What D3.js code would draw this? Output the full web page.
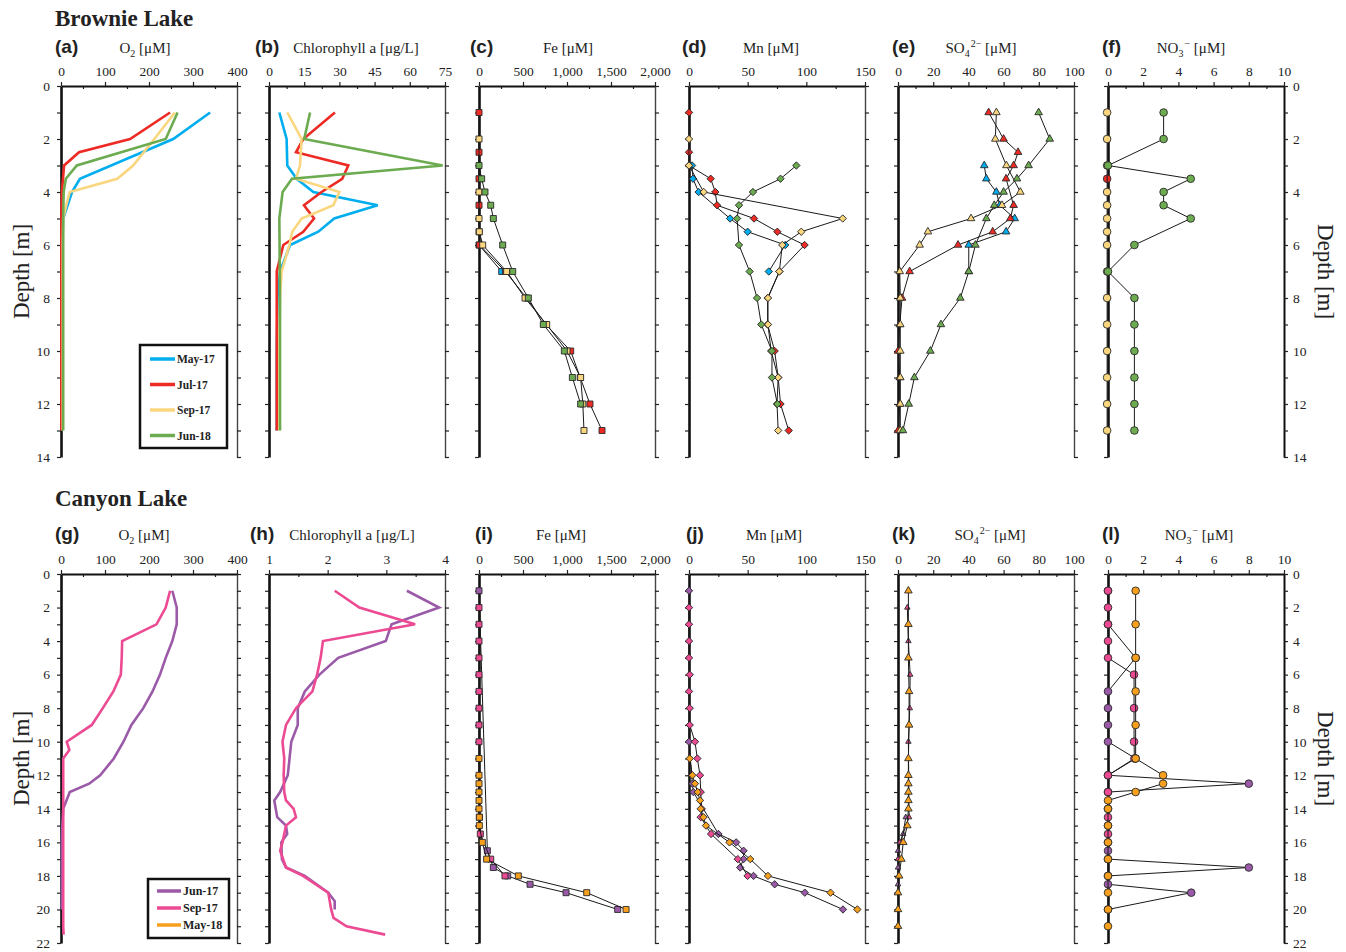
<!DOCTYPE html>
<html>
<head>
<meta charset="utf-8">
<script src="https://cdn.jsdelivr.net/npm/d3@7"></script>
<style>
  body { margin: 0; background: #fff; }
</style>
</head>
<body>
<svg id="chart" width="1346" height="952"></svg>
<script>
// Depth profiles, Brownie Lake / Canyon Lake

const serif = '"Liberation Serif", "Times New Roman", serif';
const sans = '"Liberation Sans", Arial, sans-serif';

// sampling campaigns
const brownieDates = ["May-17", "Jul-17", "Sep-17", "Jun-18"];
const brownieColors = ["#00aeef", "#ed2a24", "#fad67f", "#6cab4f"];
const canyonDates = ["Jun-17", "Sep-17", "May-18"];
const canyonColors = ["#9b5aa8", "#ec4a92", "#f6a01e"];

// top axis ticks
const o2Ticks = [0, 100, 200, 300, 400];
const chlBrownieTicks = [0, 15, 30, 45, 60, 75];
const chlCanyonTicks = [1, 2, 3, 4];
const feTicks = [0, 500, 1000, 1500, 2000];
const mnTicks = [0, 50, 100, 150];
const so4Ticks = [0, 20, 40, 60, 80, 100];
const no3Ticks = [0, 2, 4, 6, 8, 10];

// ---- Brownie Lake: [depth m, value], series in brownieDates order ----
const brownieO2 = [
  [[1,339],[2,255],[3.5,43],[4,25],[5,5],[6,3],[7,3],[8,3],[9,3],[10,3],[11,3],[12,3],[13,3]],
  [[1,248],[2,157],[2.5,41],[3,7],[4,2],[5,1],[6,1],[7,1],[8,1],[9,1],[10,1],[11,1],[12,1],[13,1]],
  [[1,259],[2,212],[3,164],[3.5,128],[4,20],[4.5,12],[5,5],[6,4],[7,4],[8,4],[9,4],[10,4],[11,4],[12,4],[13,4]],
  [[1,265],[2,238],[3,36],[3.5,11],[4,6],[5,5],[6,5],[7,5],[8,5],[9,5],[10,5],[11,5],[12,5],[13,5]]
];
const brownieChl = [
  [[1,4.4],[2,7.5],[3,7.8],[3.5,11.8],[4,18.9],[4.5,46.3],[5,27.8],[5.5,21],[6,9],[7,4.7],[8,3.8],[9,3.5],[10,3.3],[11,3.3],[12,3.3],[13,3.3]],
  [[1,28.1],[2,14.6],[2.5,11.5],[3,33.8],[3.5,31.2],[4,22.4],[4.5,14.9],[5,19.2],[5.5,14.6],[6,6.1],[7,3.3],[8,3.3],[9,3.3],[10,3.3],[11,3.3],[12,3.3],[13,3.3]],
  [[1,7.8],[2,13.9],[3,13.2],[3.5,11.5],[4,30],[4.5,27.4],[5,13.9],[5.5,9.9],[6,8.7],[7,5.4],[8,4.7],[9,4.5],[10,4.4],[11,4.4],[12,4.4],[13,4.4]],
  [[1,17.5],[2,15],[3,74],[3.5,9.8],[4,5.8],[5,4.4],[6,4.5],[7,4.6],[8,4.7],[9,4.7],[10,4.7],[11,4.7],[12,4.7],[13,4.7]]
];
const brownieFe = [
  [[6,0],[7,258]],
  [[1,0],[2.5,0],[3.5,0],[4.5,0],[5.5,0],[6,5],[7,300],[8,540],[9,760],[10,1042],[11,1150],[12,1261],[13,1398]],
  [[2,0],[4,0],[5,0],[5.5,4],[6,42],[7,314],[8,523],[9,769],[10,1000],[11,1155],[12,1180],[13,1193]],
  [[3,0],[3.5,30],[4,68],[4.5,133],[5,163],[6,269],[7,383],[8,561],[9,731],[10,970],[11,1061],[12,1155]]
];
const brownieMn = [
  [[3,2.6],[3.5,3.4],[4,8.2],[5,35],[5.5,50],[6,82],[7,68]],
  [[1,0],[2.5,0],[3,0],[3.5,18.5],[4,22.4],[4.5,23.9],[5,55.4],[5.5,75.3],[6,98.5],[7,77],[8,67],[9,67],[10,73],[11,76],[12,78],[13,85]],
  [[2,0],[3,0],[4,12.5],[5,131],[5.5,95.7],[6,79.5],[7,77],[8,67.3],[9,67.3],[10,70],[11,76],[12,75],[13,76]],
  [[3,91.5],[3.5,78],[4,54.5],[4.5,42.6],[5,41],[6,42.6],[7,51.7],[8,58],[9,61.6],[10,70.7],[11,70.7],[12,75.3]]
];
const brownieSO4 = [
  [[3,49],[3.5,50.2],[4,55.9],[4.5,57.8],[5,66.3],[5.5,61.4],[6,40.2],[7,40.2]],
  [[1,51.5],[2,60],[2.5,68.2],[3,65.7],[3.5,61.4],[4.5,65.7],[5,63.8],[5.5,53.8],[6,34.1],[7,6.6],[8,2.3],[9,1],[10,0],[11,1],[12,1],[13,0]],
  [[1,55.9],[2,55.3],[3,61.6],[4,69.5],[4.5,59.1],[5,41.5],[5.5,17],[6,12.3],[7,1],[8,1.3],[9,1.3],[10,1.3],[11,1.3],[12,1.3],[13,1.3]],
  [[1,79.9],[2,86.2],[3,74.2],[3.5,67.6],[4,60],[4.5,54.7],[5,50.2],[6,44],[7,40.2],[8,35.4],[9,24.4],[10,18.4],[11,9.3],[12,6.1],[13,2.8]]
];
const brownieNO3 = [
  null,
  [[3.5,-0.05]],
  [[1,-0.05],[2,-0.05],[3,-0.05],[4,-0.05],[4.5,-0.05],[5,-0.05],[5.5,-0.05],[6,-0.05],[7,-0.05],[8,-0.05],[9,-0.05],[10,-0.05],[11,-0.05],[12,-0.05],[13,-0.05]],
  [[1,3.16],[2,3.16],[3,0],[3.5,4.7],[4,3.16],[4.5,3.16],[5,4.7],[6,1.5],[7,0],[8,1.5],[9,1.5],[10,1.5],[11,1.5],[12,1.5],[13,1.5]]
];

// ---- Canyon Lake: series in canyonDates order ----
const canyonO2 = [
  [[1,253],[2,263],[3,263],[4,253],[5,238],[6,225],[7,208],[8,187],[9,160],[10,142],[11,120],[12,89],[12.5,64],[13,20],[14,5],[15,3],[16,2],[17,2],[18,2],[19,2],[20,2]],
  [[1,248],[2,238],[3,217],[4,139],[5,138],[6,136],[7,119],[8,95],[9,70],[10,13],[10.5,19],[11,5],[12,5],[14,5],[16,5],[18,5],[20,5],[21,5],[21.5,6]],
  null
];
const canyonChl = [
  [[1,3.35],[2,3.9],[3,3.09],[4,2.99],[5,2.18],[6,1.86],[7,1.61],[8,1.49],[9,1.49],[10,1.38],[11,1.35],[12,1.32],[13,1.19],[13.5,1.09],[14.5,1.14],[15,1.29],[15.5,1.31],[16,1.21],[17,1.22],[17.5,1.29],[18,1.61],[19,2.01],[19.5,2.12],[20,2.12]],
  [[1,2.12],[2,2.54],[3,3.49],[4,1.92],[5,1.88],[6,1.82],[7,1.74],[8,1.46],[9,1.29],[10,1.23],[11,1.26],[12,1.25],[13,1.26],[13.5,1.29],[14,1.42],[14.5,1.46],[15,1.29],[16,1.23],[16.5,1.19],[17.5,1.29],[18,1.58],[19,2.01],[20,2.06],[20.5,2.1],[21,2.32],[21.5,2.98]],
  null
];
const canyonFe = [
  [[1,0],[16.5,95],[17.5,163],[18,326],[18.5,580],[19,989],[20,1576]],
  [[2,0],[3,0],[4,0],[5,0],[6,0],[7,0],[8,0],[9,0],[10,0],[14.5,5],[15.5,15],[17,133],[18,295]],
  [[11,0],[12,0],[12.5,0],[13,0],[13.5,0],[14,0],[14.5,4],[15,4],[16,38],[17,87],[18,447],[19,1224],[20,1671]]
];
const canyonMn = [
  [[1,0],[10,0],[12.5,2.9],[13,3.7],[15.5,25.1],[16,40.2],[16.5,46.5],[17,46.5],[17.5,43.6],[18,55],[18.5,73],[19,98.7],[20,131.2]],
  [[2,0],[3,0],[4,0],[5,0],[6,0.6],[7,0],[8,0.6],[9,0.6],[10,5.1],[11,7.1],[12,9.4],[13,10],[14,10.8],[14.5,10],[15.5,18.8],[17,41.6],[18,49.9]],
  [[11,0.6],[12,2.9],[12.5,5.1],[13,7.4],[13.5,9.4],[14,10],[14.5,12.3],[15,14.5],[16,34.5],[17,52.2],[18,67.3],[19,120.6],[20,143.5]]
];
const canyonSO4 = [
  [[14.5,4.4],[15.5,2.9],[16.5,0],[17.5,0],[18.5,0]],
  [[2,5.3],[4,5.9],[6,6.9],[8,6.7],[10,5.9],[14.5,6.3],[16,1.1],[17,0]],
  [[1,5.9],[3,5.9],[5,5.9],[7,6.3],[9,6.3],[11,5.9],[12,5.9],[12.5,5.9],[13,5.9],[13.5,5.9],[14,5.9],[15,5.3],[16,3],[17,1.9],[18,0.6],[19,0],[20,0],[21,0]]
];
const canyonNO3 = [
  [[1,0],[3,0],[5,1.57],[7,0],[8,0],[9,0],[10,0],[11,1.57],[12,0],[12.5,8],[13,0],[14,0],[15,0],[16,0],[16.5,0],[17,0],[17.5,8],[18,0],[18.5,0],[19,4.73],[20,0]],
  [[1,0],[2,0],[3,0],[4,0],[5,0],[6,1.48],[8,1.48],[10,1.48],[11,1.5],[12,0],[13,0],[14.5,0],[15.5,0]],
  [[1,1.57],[3,1.57],[5,1.57],[7,1.57],[9,1.57],[11,1.57],[12,3.13],[12.5,3.13],[13,1.57],[13.5,0],[14,0],[15,0],[16,0],[17,0],[18,0],[19,0],[20,0],[21,0]]
];

// ---- layout ----
const panelLeft = [61, 269, 479, 689, 898, 1108];
const panelW = 176;
const rowTop = { top: 86, bottom: 457, maxDepth: 14, titleY: 53, lakeY: 26, lake: "Brownie Lake" };
const rowBot = { top: 574, bottom: 943, maxDepth: 22, titleY: 540, lakeY: 506, lake: "Canyon Lake" };

const svg = d3.select("#chart");

const O2 = [{t: "O"}, {t: "2", sub: true}, {t: " [μM]"}];
const CHL = [{t: "Chlorophyll a [μg/L]"}];
const FE = [{t: "Fe [μM]"}];
const MN = [{t: "Mn [μM]"}];
const SO4 = [{t: "SO"}, {t: "4", sub: true}, {t: "2−", sup: true}, {t: " [μM]"}];
const NO3 = [{t: "NO"}, {t: "3", sub: true}, {t: "−", sup: true}, {t: " [μM]"}];

const minorOf = ticks => d3.pairs(ticks).map(([a, b]) => (a + b) / 2);

const topPanels = [
  { label: "(a)", lx: 55,   tx: 145,  title: O2,  ticks: o2Ticks,  kind: "line", data: brownieO2 },
  { label: "(b)", lx: 255,  tx: 356,  title: CHL, ticks: chlBrownieTicks, kind: "line", data: brownieChl },
  { label: "(c)", lx: 470,  tx: 568,  title: FE,  ticks: feTicks,  kind: "square", data: brownieFe, fmt: d3.format(",") },
  { label: "(d)", lx: 682,  tx: 771,  title: MN,  ticks: mnTicks,  kind: "diamond", data: brownieMn },
  { label: "(e)", lx: 892,  tx: 981,  title: SO4, ticks: so4Ticks, kind: "triangle", data: brownieSO4 },
  { label: "(f)", lx: 1102, tx: 1191, title: NO3, ticks: no3Ticks, kind: "circle", data: brownieNO3 }
];
const botPanels = [
  { label: "(g)", lx: 55,   tx: 144,  title: O2,  ticks: o2Ticks,  kind: "line", data: canyonO2 },
  { label: "(h)", lx: 250,  tx: 352,  title: CHL, ticks: chlCanyonTicks, kind: "line", data: canyonChl },
  { label: "(i)", lx: 475,  tx: 561,  title: FE,  ticks: feTicks,  kind: "square", data: canyonFe, fmt: d3.format(",") },
  { label: "(j)", lx: 686,  tx: 774,  title: MN,  ticks: mnTicks,  kind: "diamond", data: canyonMn },
  { label: "(k)", lx: 892,  tx: 990,  title: SO4, ticks: so4Ticks, kind: "triangle", data: canyonSO4 },
  { label: "(l)", lx: 1102, tx: 1199, title: NO3, ticks: no3Ticks, kind: "circle", data: canyonNO3 }
];

function symbolFor(kind, small) {
  if (kind === "square") return d3.symbol(d3.symbolSquare, 36)();
  if (kind === "diamond") return d3.symbol(d3.symbolSquare, 27)();
  if (kind === "triangle") return d3.symbol(d3.symbolTriangle, small ? 13 : 25)();
  return d3.symbol(d3.symbolCircle, 46)();
}

function styleAxis(g) {
  g.attr("font-family", null).attr("font-size", null);
  g.selectAll("text").attr("font-family", serif).attr("font-size", 13.5).attr("fill", "#222");
  g.selectAll(".tick line").attr("stroke", "#222").attr("stroke-width", 1.2);
}

function drawTitle(x, y, parts) {
  const t = svg.append("text").attr("x", x).attr("y", y)
    .attr("text-anchor", "middle").attr("font-family", serif).attr("font-size", 15).attr("fill", "#222");
  let shift = 0;
  parts.forEach(p => {
    const s = t.append("tspan").text(p.t);
    if (p.sub) { s.attr("font-size", 10).attr("dy", 4); shift += 4; }
    else if (p.sup) { s.attr("font-size", 10).attr("dy", -10).attr("dx", 1); shift -= 10; }
    else if (shift !== 0) { s.attr("dy", -shift); shift = 0; }
  });
}

function drawPanel(p, i, row, colors, isLast) {
  const left = panelLeft[i];
  const x = d3.scaleLinear().domain([p.ticks[0], p.ticks[p.ticks.length - 1]]).range([left, left + panelW]);
  const y = d3.scaleLinear().domain([0, row.maxDepth]).range([row.top, row.bottom]);
  const depthTicks = d3.range(0, row.maxDepth + 1);

  // labels
  svg.append("text").attr("x", p.lx).attr("y", row.titleY)
    .attr("font-family", sans).attr("font-weight", "bold").attr("font-size", 19).attr("fill", "#222")
    .text(p.label);
  drawTitle(p.tx, row.titleY, p.title);

  // minor top ticks (inside)
  const gMinor = svg.append("g").attr("transform", `translate(0,${row.top})`)
    .call(d3.axisTop(x).tickValues(minorOf(p.ticks)).tickSize(-3).tickFormat(""));
  gMinor.select(".domain").remove();
  styleAxis(gMinor);

  // top axis
  const gTop = svg.append("g").attr("transform", `translate(0,${row.top})`)
    .call(d3.axisTop(x).tickValues(p.ticks).tickSize(4).tickSizeOuter(0).tickPadding(6)
      .tickFormat(p.fmt || (d => d)));
  styleAxis(gTop);
  gTop.select(".domain").attr("stroke", "#111").attr("stroke-width", 2);

  // right edge
  const gRight = svg.append("g").attr("transform", `translate(${left + panelW},0)`)
    .call(d3.axisRight(y).tickValues(depthTicks).tickSize(4).tickSizeOuter(0).tickPadding(5)
      .tickFormat(d => (isLast && d % 2 === 0) ? d : ""));
  styleAxis(gRight);
  gRight.select(".domain").attr("stroke", isLast ? "#111" : "#444").attr("stroke-width", isLast ? 2 : 1.4);

  // left depth axis
  const gLeft = svg.append("g").attr("transform", `translate(${left},0)`)
    .call(d3.axisLeft(y).tickValues(depthTicks).tickSize(4).tickSizeOuter(0).tickPadding(7)
      .tickFormat(d => (i === 0 && d % 2 === 0) ? d : ""));
  styleAxis(gLeft);
  gLeft.select(".domain").attr("stroke", "#111").attr("stroke-width", 2.6);

  // series
  const line = d3.line().x(d => x(d[1])).y(d => y(d[0]));
  p.data.forEach((s, k) => {
    if (!s) return;
    if (p.kind === "line") {
      svg.append("path").datum(s).attr("d", line)
        .attr("fill", "none").attr("stroke", colors[k]).attr("stroke-width", 2.6)
        .attr("stroke-linejoin", "miter");
      return;
    }
    svg.append("path").datum(s).attr("d", line)
      .attr("fill", "none").attr("stroke", "#1a1a1a").attr("stroke-width", 1);
    const small = row === rowBot && k < 2;
    svg.append("g").selectAll("path").data(s).join("path")
      .attr("d", symbolFor(p.kind, small))
      .attr("transform", d => `translate(${x(d[1])},${y(d[0])})` + (p.kind === "diamond" ? " rotate(45)" : ""))
      .attr("fill", colors[k]).attr("stroke", "#2a2a2a").attr("stroke-width", 0.9);
  });
}

function drawLegend(bx, by, bw, bh, dates, colors, rowGap, firstY, x0, x1, fs) {
  svg.append("rect").attr("x", bx).attr("y", by).attr("width", bw).attr("height", bh)
    .attr("fill", "#fff").attr("stroke", "#111").attr("stroke-width", 2.5);
  dates.forEach((d, k) => {
    const yy = firstY + k * rowGap;
    svg.append("line").attr("x1", x0).attr("x2", x1).attr("y1", yy).attr("y2", yy)
      .attr("stroke", colors[k]).attr("stroke-width", 3.5);
    svg.append("text").attr("x", x1 + 2).attr("y", yy).attr("dy", "0.35em")
      .attr("font-family", serif).attr("font-weight", "bold").attr("font-size", fs).attr("fill", "#222")
      .text(d);
  });
}

[[rowTop, topPanels, brownieColors], [rowBot, botPanels, canyonColors]].forEach(([row, panels, colors]) => {
  svg.append("text").attr("x", 55).attr("y", row.lakeY)
    .attr("font-family", serif).attr("font-weight", "bold").attr("font-size", 23).attr("fill", "#222")
    .text(row.lake);
  panels.forEach((p, i) => drawPanel(p, i, row, colors, i === panels.length - 1));

  const midY = (row.top + row.bottom) / 2;
  svg.append("text").attr("transform", `translate(29,${midY}) rotate(-90)`)
    .attr("text-anchor", "middle").attr("font-family", serif).attr("font-size", 23).attr("fill", "#222")
    .text("Depth [m]");
  svg.append("text").attr("transform", `translate(1318,${midY}) rotate(90)`)
    .attr("text-anchor", "middle").attr("font-family", serif).attr("font-size", 23).attr("fill", "#222")
    .text("Depth [m]");
});

drawLegend(140, 345, 87, 103, brownieDates, brownieColors, 25.5, 359, 150, 175, 11.5);
drawLegend(148, 879, 81, 59, canyonDates, canyonColors, 17, 891, 157, 181, 12);
</script>
</body>
</html>
